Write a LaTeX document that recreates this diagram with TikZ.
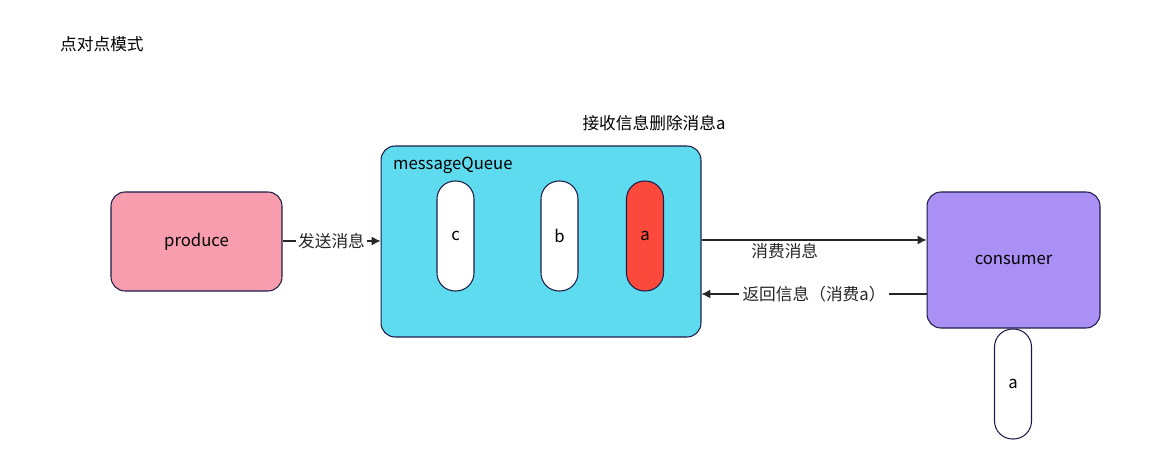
\documentclass[tikz,border=0pt]{standalone}
\usepackage{fontspec}
\setmainfont{Noto Sans CJK SC}
\usetikzlibrary{arrows.meta}
\definecolor{pinkbox}{HTML}{F79DAE}
\definecolor{cyanbox}{HTML}{5FDBEF}
\definecolor{redpill}{HTML}{FB4A3C}
\definecolor{purplebox}{HTML}{AA8FF5}
\definecolor{edge}{HTML}{1C1C48}
\begin{document}
\begin{tikzpicture}[
    x=0.02cm, y=-0.02cm,
    font=\fontsize{9.5}{11}\selectfont,
    box/.style={draw=edge, line width=0.6pt, rounded corners=0.28cm, inner sep=0pt},
    pill/.style={draw=edge, line width=0.6pt, fill=white, rounded corners=0.36cm,
        minimum width=0.74cm, minimum height=2.2cm, inner sep=0pt},
    msg/.style={-{Latex[length=5pt,width=5pt]}, line width=0.6pt, black!85}
    ]
    \useasboundingbox (0,0) rectangle (1168,449);

    \node[anchor=west] (title) at (54,44) {点对点模式};

    \node[box, fill=pinkbox, minimum width=3.42cm, minimum height=1.98cm] (produce) at (196.5,241.5) {produce};
    \node[box, fill=cyanbox, minimum width=6.4cm, minimum height=3.82cm] (mq) at (541,241.5) {};
    \node[anchor=west] (mqlabel) at (387,165) {messageQueue};
    \node[box, fill=purplebox, minimum width=3.46cm, minimum height=2.72cm] (consumer) at (1013.5,260) {\raisebox{-1pt}{consumer}};

    \node[pill] (pc) at (455.5,236) {c};
    \node[pill] (pb) at (559.5,236) {b};
    \node[pill, fill=redpill] (pa) at (645,236) {a};
    \node[pill] (pdone) at (1013,384) {a};

    \node (note) at (654,123) {接收信息删除消息a};

    \coordinate (mqin) at (mq.west |- 0,241);
    \coordinate (outa) at (mq.east |- 0,240);
    \coordinate (cin) at (consumer.west |- 0,240);
    \coordinate (cout) at (consumer.west |- 0,294);
    \coordinate (backin) at (mq.east |- 0,294);

    \draw[msg] (produce.east |- 0,241) -- node[fill=white, inner sep=1pt]{发送消息} (mqin);
    \draw[msg] (outa) -- (cin) node[pos=0.37, below=-2pt]{消费消息};
    \draw[msg] (cout) -- node[pos=0.5, fill=white, inner sep=2pt]{返回信息（消费a）} (backin);

\end{tikzpicture}
\end{document}
